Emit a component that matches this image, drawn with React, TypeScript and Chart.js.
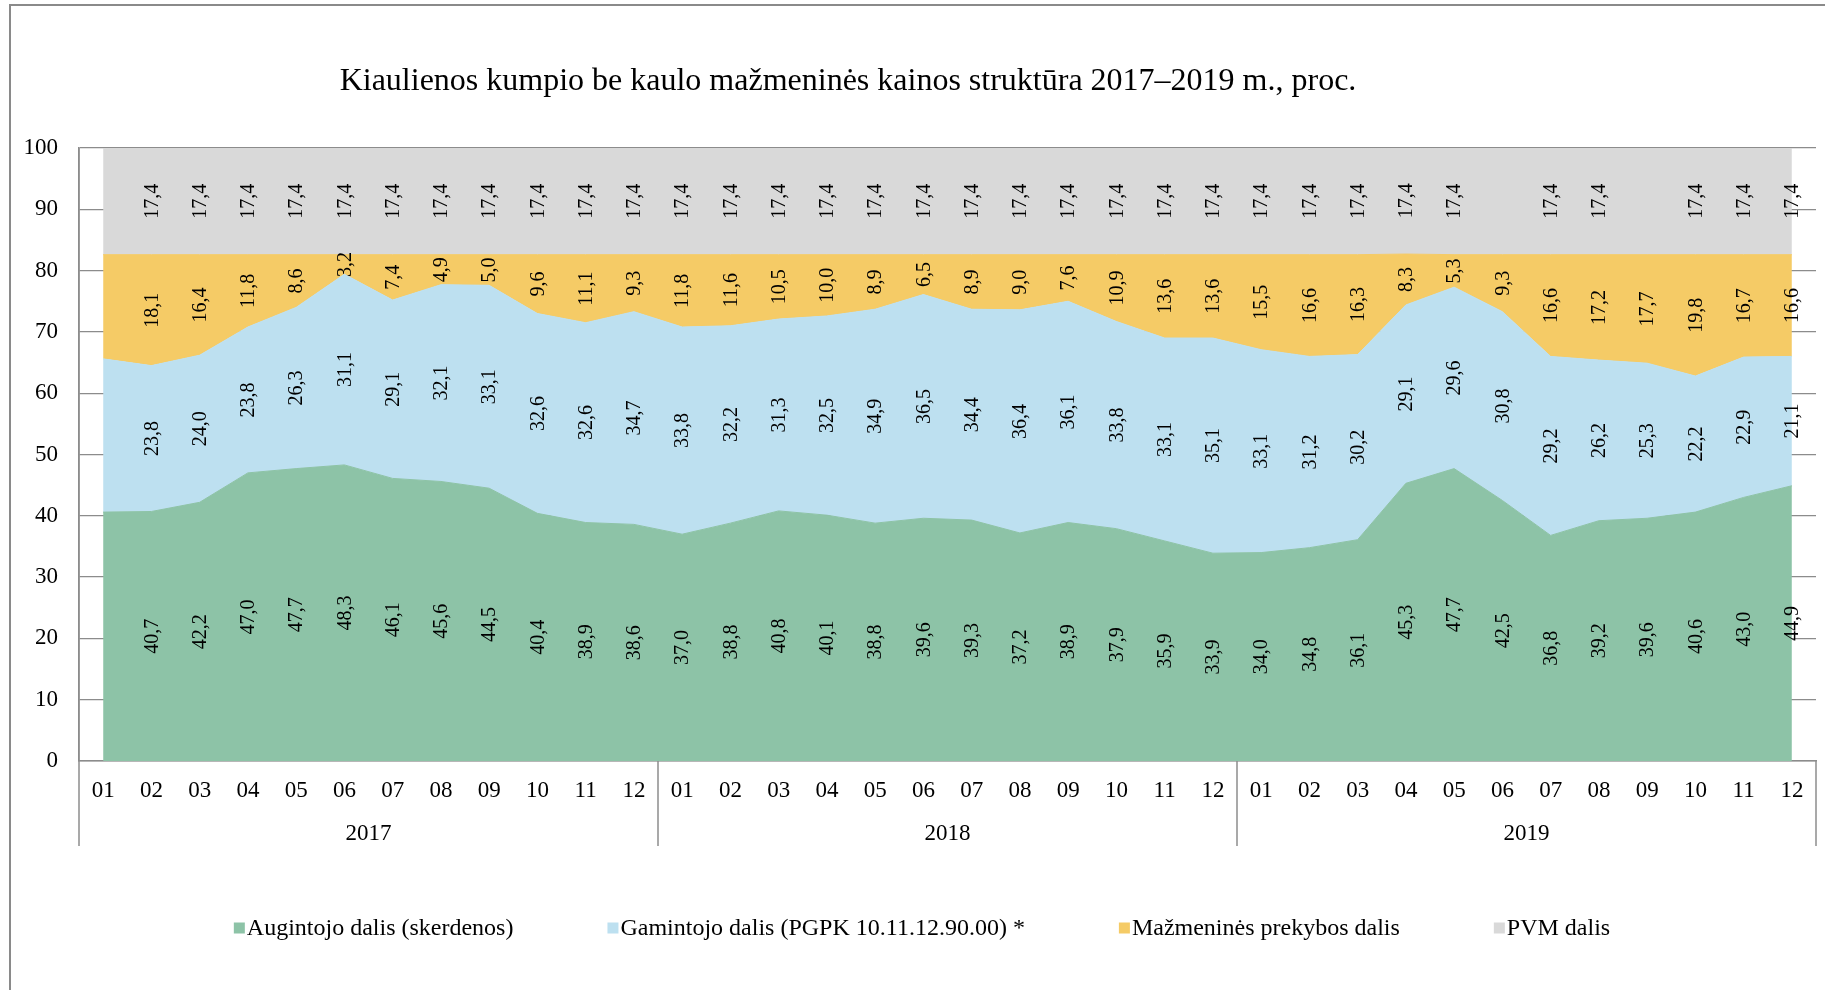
import React, { useEffect, useRef } from "react";
import { Chart, registerables } from "chart.js";

Chart.register(...registerables);

const title = "Kiaulienos kumpio be kaulo mažmeninės kainos struktūra 2017–2019 m., proc.";
const years = ["2017", "2018", "2019"];
const months = ["01", "02", "03", "04", "05", "06", "07", "08", "09", "10", "11", "12"];
const categories = years.flatMap((y) => months.map((m) => m));

const seriesNames = [
  "Augintojo dalis (skerdenos)",
  "Gamintojo dalis (PGPK 10.11.12.90.00) *",
  "Mažmeninės prekybos dalis",
  "PVM dalis",
];
const seriesColors = ["#8DC3A7", "#BDE0F0", "#F5CB66", "#D9D9D9"];

const augintojo = [
  40.6, 40.7, 42.2, 47.0, 47.7, 48.3, 46.1, 45.6, 44.5, 40.4, 38.9, 38.6,
  37.0, 38.8, 40.8, 40.1, 38.8, 39.6, 39.3, 37.2, 38.9, 37.9, 35.9, 33.9,
  34.0, 34.8, 36.1, 45.3, 47.7, 42.5, 36.8, 39.2, 39.6, 40.6, 43.0, 44.9,
];
const gamintojo = [
  25.0, 23.8, 24.0, 23.8, 26.3, 31.1, 29.1, 32.1, 33.1, 32.6, 32.6, 34.7,
  33.8, 32.2, 31.3, 32.5, 34.9, 36.5, 34.4, 36.4, 36.1, 33.8, 33.1, 35.1,
  33.1, 31.2, 30.2, 29.1, 29.6, 30.8, 29.2, 26.2, 25.3, 22.2, 22.9, 21.1,
];
const mazmenine = [
  17.0, 18.1, 16.4, 11.8, 8.6, 3.2, 7.4, 4.9, 5.0, 9.6, 11.1, 9.3,
  11.8, 11.6, 10.5, 10.0, 8.9, 6.5, 8.9, 9.0, 7.6, 10.9, 13.6, 13.6,
  15.5, 16.6, 16.3, 8.3, 5.3, 9.3, 16.6, 17.2, 17.7, 19.8, 16.7, 16.6,
];
const pvm = [
  17.4, 17.4, 17.4, 17.4, 17.4, 17.4, 17.4, 17.4, 17.4, 17.4, 17.4, 17.4,
  17.4, 17.4, 17.4, 17.4, 17.4, 17.4, 17.4, 17.4, 17.4, 17.4, 17.4, 17.4,
  17.4, 17.4, 17.4, 17.4, 17.4, 17.4, 17.4, 17.4, 17.4, 17.4, 17.4, 17.4,
];
const seriesValues = [augintojo, gamintojo, mazmenine, pvm];

// indices where a series shows no value label
const hiddenLabels = [[0], [0], [0], [0, 29, 32]];

const FONT = '"Liberation Serif", "Times New Roman", serif';
const GRID = "#8c8c8c";

const fmt = (v: number) => v.toFixed(1).replace(".", ",");

const framePlugin = {
  id: "frame",
  beforeDraw(chart: any) {
    const ctx = chart.ctx;
    ctx.save();
    ctx.fillStyle = "#ffffff";
    ctx.fillRect(0, 0, chart.width, chart.height);
    ctx.strokeStyle = "#8a8a8a";
    ctx.lineWidth = 2;
    ctx.beginPath();
    ctx.moveTo(10, chart.height);
    ctx.lineTo(10, 5);
    ctx.lineTo(chart.width, 5);
    ctx.stroke();
    ctx.restore();
  },
};

const titlePlugin = {
  id: "customTitle",
  afterDraw(chart: any) {
    const ctx = chart.ctx;
    ctx.save();
    ctx.font = `32px ${FONT}`;
    ctx.fillStyle = "#000";
    ctx.textAlign = "center";
    ctx.textBaseline = "middle";
    ctx.fillText(title, 848, 82);
    ctx.restore();
  },
};

const valueLabelPlugin = {
  id: "valueLabels",
  afterDatasetsDraw(chart: any) {
    const ctx = chart.ctx;
    const yScale = chart.scales.y;
    ctx.save();
    ctx.font = `20px ${FONT}`;
    ctx.fillStyle = "#000";
    ctx.textAlign = "center";
    ctx.textBaseline = "middle";
    chart.data.datasets.forEach((ds: any, i: number) => {
      const meta = chart.getDatasetMeta(i);
      meta.data.forEach((pt: any, j: number) => {
        if (hiddenLabels[i].includes(j)) return;
        const top = pt.y;
        const bottom = i === 0 ? yScale.getPixelForValue(0) : chart.getDatasetMeta(i - 1).data[j].y;
        const cy = (top + bottom) / 2;
        ctx.save();
        ctx.translate(pt.x, cy);
        ctx.rotate(-Math.PI / 2);
        ctx.fillText(fmt(ds.data[j]), 0, 1);
        ctx.restore();
      });
    });
    ctx.restore();
  },
};

const yearAxisPlugin = {
  id: "yearAxis",
  afterDraw(chart: any) {
    const ctx = chart.ctx;
    const x = chart.scales.x;
    const area = chart.chartArea;
    const bottomY = 846;
    ctx.save();
    ctx.strokeStyle = GRID;
    ctx.lineWidth = 1.5;
    ctx.font = `23px ${FONT}`;
    ctx.fillStyle = "#000";
    ctx.textAlign = "center";
    ctx.textBaseline = "middle";
    const n = months.length;
    const bounds: number[] = [area.left];
    for (let g = 1; g < years.length; g++) {
      bounds.push((x.getPixelForValue(g * n - 1) + x.getPixelForValue(g * n)) / 2);
    }
    bounds.push(area.right);
    bounds.forEach((bx, k) => {
      ctx.beginPath();
      ctx.moveTo(bx, k === 0 ? area.top : area.bottom);
      ctx.lineTo(bx, bottomY);
      ctx.stroke();
    });
    years.forEach((yr, g) => {
      ctx.fillText(yr, (bounds[g] + bounds[g + 1]) / 2, 834);
    });
    ctx.restore();
  },
};

const legendPlugin = {
  id: "customLegend",
  afterDraw(chart: any) {
    const ctx = chart.ctx;
    ctx.save();
    ctx.font = `24px ${FONT}`;
    ctx.textBaseline = "middle";
    ctx.textAlign = "left";
    const box = 11;
    const gapText = 2;
    const gapItem = 94;
    const items = chart.data.datasets.map((ds: any) => ({
      label: ds.label,
      color: ds.backgroundColor,
      w: box + gapText + ctx.measureText(ds.label).width,
    }));
    const total = items.reduce((s: number, it: any) => s + it.w, 0) + gapItem * (items.length - 1);
    let x = 922 - total / 2;
    const cy = 928;
    items.forEach((it: any) => {
      ctx.fillStyle = it.color;
      ctx.fillRect(x, cy - box / 2, box, box);
      ctx.fillStyle = "#000";
      ctx.fillText(it.label, x + box + gapText, cy + 1);
      x += it.w + gapItem;
    });
    ctx.restore();
  },
};

export default function App() {
  const ref = useRef<HTMLCanvasElement | null>(null);

  useEffect(() => {
    if (!ref.current) return;
    const chart = new Chart(ref.current, {
      type: "line",
      data: {
        labels: categories,
        datasets: seriesValues.map((vals, i) => ({
          label: seriesNames[i],
          data: vals,
          backgroundColor: seriesColors[i],
          borderColor: seriesColors[i],
          borderWidth: 1,
          pointRadius: 0,
          pointHoverRadius: 0,
          tension: 0,
          fill: i === 0 ? "origin" : "-1",
        })),
      },
      options: {
        responsive: false,
        animation: false,
        events: [],
        layout: { padding: { top: 148, left: 0, right: 9, bottom: 990 - 761 - 60 } },
        plugins: {
          legend: { display: false },
          title: { display: false },
          tooltip: { enabled: false },
        },
        scales: {
          x: {
            type: "category",
            offset: true,
            grid: { display: false, drawTicks: false },
            border: { display: true, color: GRID, width: 1.5 },
            ticks: {
              autoSkip: false,
              maxRotation: 0,
              minRotation: 0,
              padding: 16,
              color: "#000",
              font: { family: FONT, size: 23 },
            },
            afterFit: (s: any) => {
              s.height = 60;
            },
          },
          y: {
            stacked: true,
            min: 0,
            max: 100,
            grid: { color: GRID, lineWidth: 1.3, drawTicks: false },
            border: { display: true, color: GRID, width: 1.5 },
            ticks: {
              stepSize: 10,
              padding: 21,
              color: "#000",
              font: { family: FONT, size: 23 },
            },
            afterFit: (s: any) => {
              s.width = 79;
            },
          },
        },
      },
      plugins: [framePlugin, valueLabelPlugin, yearAxisPlugin, titlePlugin, legendPlugin],
    });
    return () => chart.destroy();
  }, []);

  return (
    <div style={{ position: "fixed", left: 0, top: 0, width: 1825, height: 990, background: "#fff" }}>
      <canvas ref={ref} width={1825} height={990} style={{ display: "block" }} />
    </div>
  );
}
